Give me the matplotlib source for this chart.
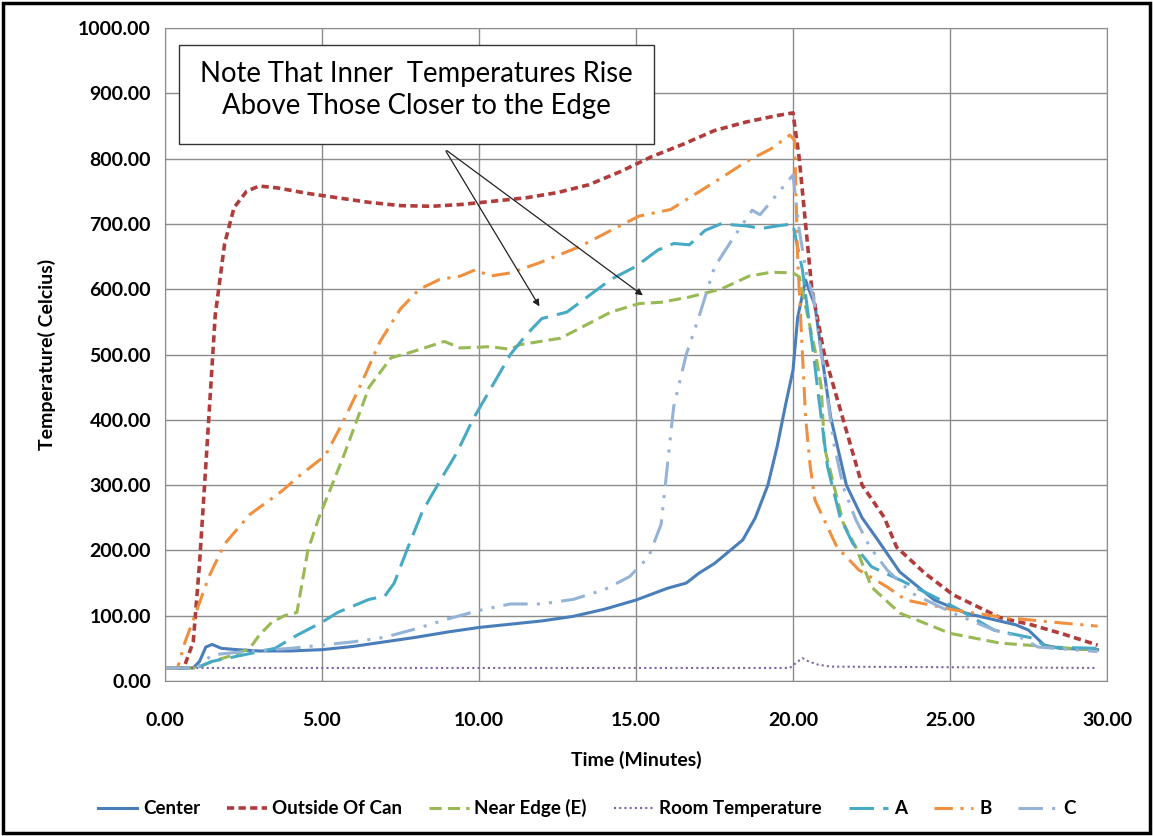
import matplotlib
matplotlib.use("Agg")
import matplotlib.pyplot as plt
from matplotlib.patches import Rectangle

plt.rcParams["font.family"] = ["Lato", "DejaVu Sans"]

# Center (solid blue)
t_center = [0, 0.9, 1.1, 1.3, 1.5, 1.8, 2.3, 3.0, 4.0, 5.0, 6.0, 7.0, 8.0, 9.0, 10.0, 11.0, 12.0,
            13.0, 14.0, 15.0, 16.0, 16.6, 17.0, 17.5, 18.0, 18.4, 18.8, 19.2, 19.5, 19.75, 20.0,
            20.15, 20.4, 20.7, 21.0, 21.2, 21.7, 22.2, 22.7, 23.4, 24.5, 25.5, 26.3, 27.1, 27.5,
            28.0, 28.5, 29.7]
v_center = [20, 20, 30, 52, 56, 50, 48, 46, 46, 48, 53, 60, 67, 75, 82, 87, 92,
            99, 110, 124, 142, 150, 165, 180, 200, 216, 250, 300, 360, 420, 476,
            557, 614, 575, 471, 404, 300, 250, 216, 167, 124, 104, 95, 86, 78,
            55, 50, 48]

# Outside Of Can
t_outside = [0, 0.6, 0.9, 1.1, 1.3, 1.6, 1.9, 2.2, 2.6, 3.0, 3.6, 4.5, 5.5, 6.5, 7.5, 8.5, 9.5,
             10.5, 11.5, 12.5, 13.5, 14.5, 15.5, 16.5, 17.5, 18.5, 19.5, 20.0, 20.2, 20.6, 21.0,
             21.6, 22.2, 22.9, 23.3, 24.2, 25.1, 26.6, 27.6, 28.6, 29.7]
v_outside = [20, 20, 60, 180, 330, 560, 670, 725, 750, 758, 755, 747, 740, 733, 728, 727, 730,
             735, 740, 748, 760, 780, 803, 822, 843, 856, 866, 870, 800, 600, 500,
             400, 300, 251, 205, 165, 132, 97, 86, 72, 55]

# Near Edge (E)
t_edge = [0, 1.0, 1.5, 2.2, 2.7, 3.0, 3.4, 3.8, 4.2, 4.55, 4.9, 5.7, 6.5, 7.2, 7.8, 8.9, 9.4, 10.35,
          11.0, 11.3, 12.6, 13.2, 14.2, 15.1, 15.8, 16.7, 17.7, 18.6, 19.3, 20.0, 20.2, 20.7, 20.9,
          21.0, 21.6, 22.0, 22.5, 23.4, 25.0, 26.6, 29.7]
v_edge = [20, 20, 30, 40, 50, 70, 90, 100, 105, 200, 250, 346, 450, 495, 503, 520, 510, 512,
          508, 515, 525, 540, 565, 578, 580, 588, 600, 620, 626, 625, 619, 507, 450,
          358, 242, 205, 144, 104, 73, 58, 47]

# Room Temperature
t_room = [0, 19.9, 20.1, 20.3, 20.5, 20.8, 21.2, 29.7]
v_room = [20, 20, 28, 35, 30, 25, 22, 20]

# A
t_a = [0, 1.0, 1.5, 2.5, 3.5, 4.2, 5.0, 5.5, 6.0, 6.5, 7.0, 7.3, 7.7, 8.2, 8.8, 9.3, 9.8, 10.4, 11.0,
       11.5, 12.0, 12.8, 13.5, 14.2, 15.0, 15.7, 16.2, 16.7, 17.2, 17.7, 18.5, 19.0, 19.5, 20.0,
       20.1, 20.3, 20.45, 20.65, 20.8, 21.1, 21.5, 21.9, 22.5, 23.4, 24.5, 25.3, 26.4, 27.6, 28.1, 29.7]
v_a = [20, 20, 30, 40, 50, 70, 90, 105, 115, 125, 130, 150, 200, 260, 310, 350, 400, 450, 500,
       530, 555, 565, 590, 615, 635, 660, 670, 668, 690, 700, 697, 693, 697, 700,
       675, 630, 573, 502, 441, 328, 251, 211, 175, 155, 129, 109, 78, 66, 52, 50]

# B
t_b = [0, 0.4, 0.64, 0.95, 1.4, 1.9, 2.7, 3.7, 4.3, 5.1, 5.6, 6.2, 6.85, 7.5, 8.1, 8.75, 9.4, 9.9,
       10.35, 11.0, 11.9, 13.2, 14.2, 15.1, 16.1, 16.7, 17.7, 18.5, 19.3, 19.9, 20.05, 20.15, 20.3,
       20.4, 20.55, 20.7, 21.4, 22.1, 23.0, 23.6, 25.1, 26.6, 28.3, 29.7]
v_b = [20, 20, 60, 100, 160, 210, 255, 290, 315, 345, 390, 450, 520, 570, 600, 615, 620, 630,
       620, 625, 640, 665, 690, 712, 722, 740, 770, 795, 815, 836, 828, 645, 502,
       404, 328, 277, 205, 170, 144, 124, 109, 98, 90, 84]

# C
t_c = [0, 1.0, 1.5, 2.5, 4.0, 5.0, 6.0, 7.0, 8.0, 9.0, 10.0, 11.0, 12.0, 13.0, 14.0, 14.8, 15.4,
       15.8, 16.0, 16.2, 16.6, 17.0, 17.5, 18.05, 18.7, 18.95, 19.4, 20.0, 20.2, 20.45, 20.65,
       21.3, 21.6, 22.0, 22.45, 23.0, 23.8, 25.1, 26.4, 27.2, 27.8, 29.7]
v_c = [20, 20, 40, 45, 50, 55, 60, 67, 80, 95, 108, 118, 118, 125, 140, 160, 190,
       240, 330, 420, 500, 557, 634, 675, 721, 714, 740, 775, 690, 619, 588,
       364, 297, 247, 205, 170, 134, 104, 78, 68, 52, 45]

x_ticks = [0, 5, 10, 15, 20, 25, 30]
y_ticks = [0, 100, 200, 300, 400, 500, 600, 700, 800, 900, 1000]

fig = plt.figure(figsize=(11.53, 8.36), dpi=100)
ax = fig.add_axes([0.1431, 0.1854, 0.8170, 0.7811])

lw = 2.2
ax.plot(t_center, v_center, color="#4A7EBB", lw=lw, label="Center")
ax.plot(t_outside, v_outside, color="#B03C3B", lw=lw + 0.4, dashes=(2, 1.2), label="Outside Of Can")
ax.plot(t_edge, v_edge, color="#98B954", lw=lw, dashes=(4, 2), label="Near Edge (E)")
ax.plot(t_room, v_room, color="#7F64A2", lw=1.5, dashes=(1, 1.5), label="Room Temperature")
ax.plot(t_a, v_a, color="#46AAC5", lw=lw, dashes=(8, 3), label="A")
ax.plot(t_b, v_b, color="#F0903F", lw=lw, dashes=(6, 2.5, 1, 2.5), label="B")
ax.plot(t_c, v_c, color="#95B3D7", lw=lw, dashes=(8, 3, 1, 3, 1, 3), label="C")

ax.set_xlim(0, 30)
ax.set_ylim(0, 1000)
ax.set_xticks(x_ticks)
ax.set_yticks(y_ticks)
ax.set_xticklabels([f"{v:.2f}" for v in x_ticks], fontsize=14, fontweight="bold")
ax.set_yticklabels([f"{v:.2f}" for v in y_ticks], fontsize=14, fontweight="bold")
ax.tick_params(length=0)
ax.tick_params(axis="x", pad=22)
ax.tick_params(axis="y", pad=10)
ax.grid(True, color="#8C8C8C", lw=1)
ax.set_axisbelow(True)
for s in ax.spines.values():
    s.set_color("#8C8C8C")

ax.set_xlabel("Time (Minutes)", fontsize=14, fontweight="bold", labelpad=16)
ax.set_ylabel("Temperature( Celcius)", fontsize=14, fontweight="bold", labelpad=16)

# note box and arrows
ax.add_patch(Rectangle((0.0149, 0.822), 0.504, 0.152, transform=ax.transAxes,
                       facecolor="white", edgecolor="#333333", lw=1, zorder=5))
ax.text(0.267, 0.905, "Note That Inner  Temperatures Rise\nAbove Those Closer to the Edge",
        transform=ax.transAxes, ha="center", va="center", fontsize=19.8, linespacing=1.27, zorder=6)
for head in [(11.97, 570), (15.29, 588)]:
    ax.annotate("", xy=head, xytext=(8.9, 815),
                arrowprops=dict(arrowstyle="-|>", color="#222222", lw=0.9, mutation_scale=10), zorder=6)

fig.legend(loc="center", bbox_to_anchor=(0.509, 0.033), ncol=7, frameon=False,
           prop={"size": 13.5, "weight": "bold"}, handlelength=2.1, columnspacing=1.45, handletextpad=0.3)

fig.patches.append(Rectangle((0.003, 0.004), 0.994, 0.992, transform=fig.transFigure,
                             fill=False, edgecolor="black", lw=2.5))

fig.savefig("out.png", dpi=100)
